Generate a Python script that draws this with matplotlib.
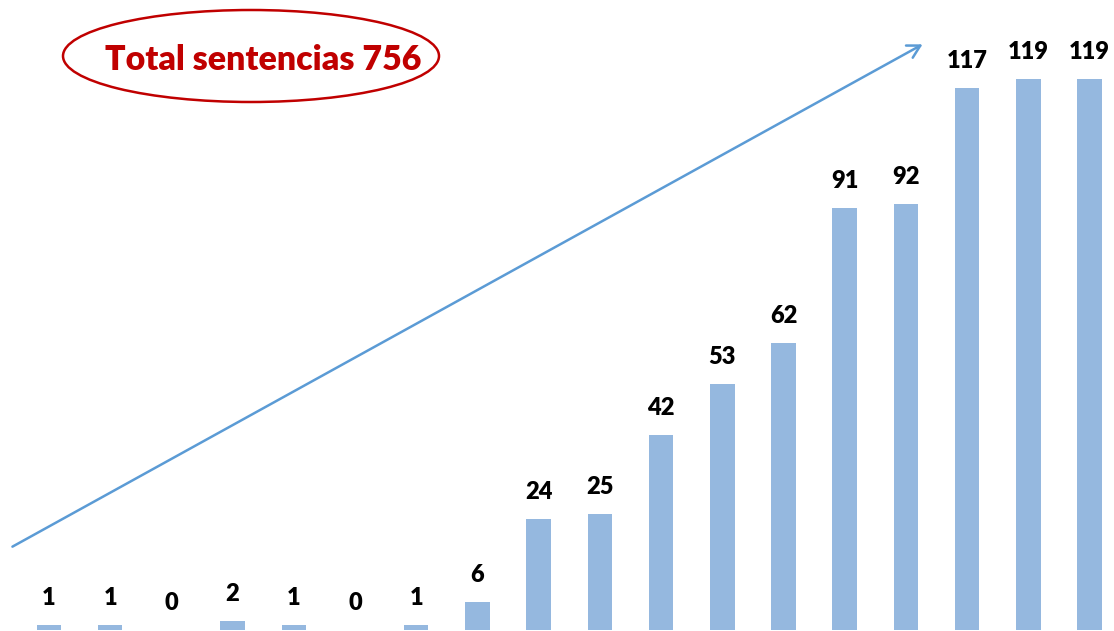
import matplotlib
matplotlib.use("Agg")
import matplotlib.pyplot as plt
from matplotlib.patches import Ellipse, FancyArrowPatch

# Sentences per period
periods = list(range(18))
sentences = [1, 1, 0, 2, 1, 0, 1, 6, 24, 25, 42, 53, 62, 91, 92, 117, 119, 119]
total_label = "Total sentencias 756"

W, H = 1114, 631
fig = plt.figure(figsize=(W / 100, H / 100), dpi=100)
ax = fig.add_axes([0, 0, 1, 1])

bar_color = "#95B8DF"
ax.bar(periods, sentences, width=0.40, color=bar_color, zorder=2)

for x, v in zip(periods, sentences):
    ax.annotate(str(v), (x, v), xytext=(0, 19.5), textcoords="offset points",
                ha="center", va="center", fontsize=17, fontweight="heavy",
                family="Lato", color="black")

ax.set_xlim(-0.80, 17.40)
ax.set_ylim(-0.22, 136.0)
ax.axis("off")

# Trend arrow across the chart
arrow = FancyArrowPatch((10 / W, 1 - 548 / H), (925 / W, 1 - 43 / H),
                        transform=fig.transFigure, arrowstyle="->,head_length=9,head_width=5",
                        color="#5B9BD5", lw=1.8, mutation_scale=1)
fig.add_artist(arrow)

# Highlighted total
red = "#C00000"
ell = Ellipse((251 / W, 1 - 56 / H), 376 / W, 92 / H, transform=fig.transFigure,
              fill=False, edgecolor=red, lw=1.8)
fig.add_artist(ell)
fig.text(263 / W, 1 - 60 / H, total_label, ha="center", va="center",
         fontsize=24.4, fontweight="heavy", family="Lato", color=red)

fig.savefig("out.png", dpi=100)
